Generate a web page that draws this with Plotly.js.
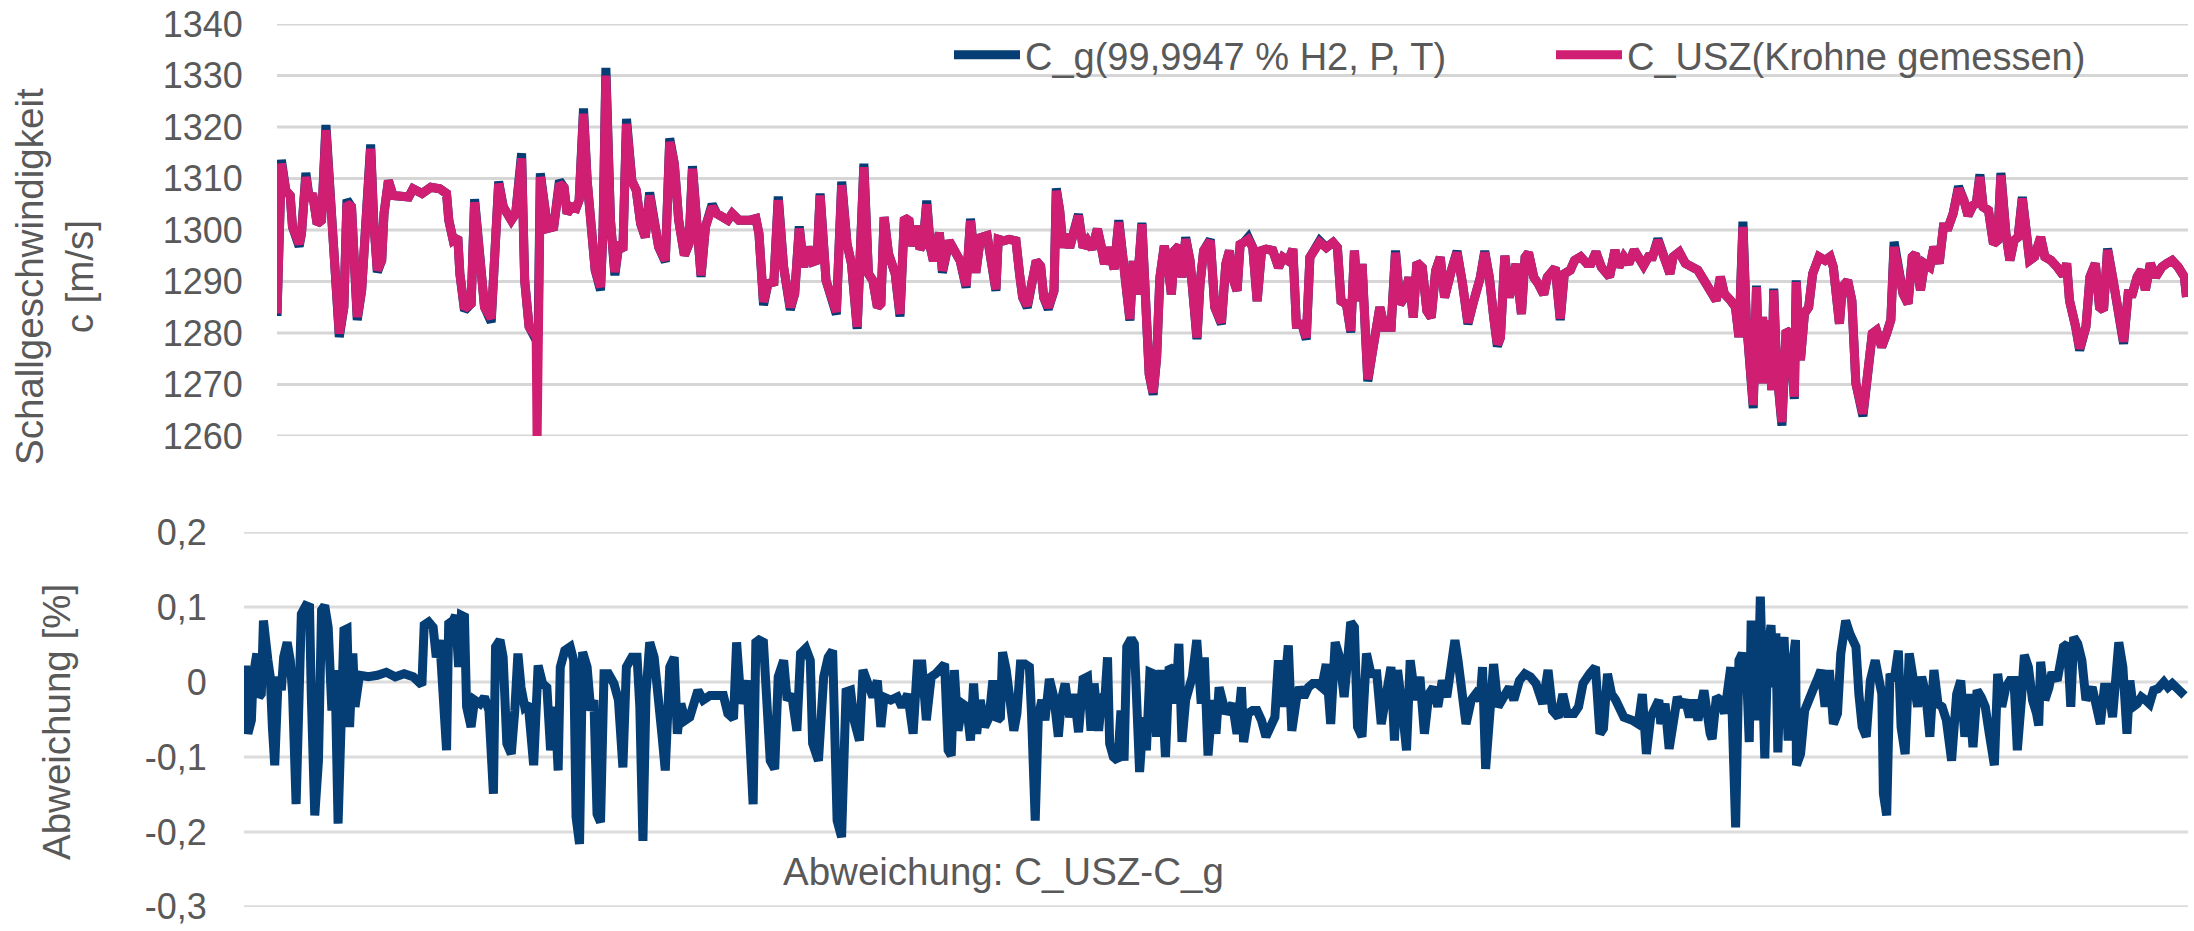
<!DOCTYPE html>
<html>
<head>
<meta charset="utf-8">
<script src="https://cdn.plot.ly/plotly-3.0.1.min.js"></script>
<style>
  html, body { margin: 0; padding: 0; background: #ffffff; }
  #chart { width: 2194px; height: 931px; }
</style>
</head>
<body>
<div id="chart"></div>
<script>
// ---------------- DATA ----------------
// Measurement index (0..1000) for the upper chart
const tTop = [0, 2.3, 4.6, 6.9, 8.1, 10.5, 11.6, 12.8, 15.1, 17.0, 18.6, 21.0, 23.3, 25.6, 28.7, 30.3, 32.6, 35.0, 36.6, 39.0, 42.0, 44.3, 46.7, 49.0, 50.6, 52.5, 54.8, 56.0, 58.3, 60.7, 68.9, 71.2, 75.9, 80.5, 85.2, 88.7, 89.9, 92.2, 94.6, 95.7, 98.1, 101.6, 103.4, 106.2, 108.6, 112.1, 114.4, 116.0, 118.4, 120.3, 122.6, 124.9, 128.0, 129.6, 131.9, 134.3, 135.6, 136.1, 136.6, 137.8, 140.1, 141.7, 144.8, 147.8, 150.2, 151.8, 154.1, 156.5, 158.1, 160.4, 162.3, 164.6, 166.5, 169.3, 170.6, 172.1, 174.5, 176.8, 178.7, 181.0, 182.9, 185.7, 188.0, 190.3, 192.7, 195.0, 197.3, 199.7, 203.2, 205.5, 207.9, 210.2, 213.2, 215.6, 217.4, 219.5, 221.9, 224.2, 227.7, 230.1, 232.4, 235.9, 238.2, 241.7, 247.6, 250.6, 252.2, 254.6, 256.9, 260.0, 262.3, 265.1, 268.6, 270.9, 273.3, 275.6, 277.9, 280.3, 282.6, 284.2, 287.3, 290.3, 292.7, 295.5, 298.3, 300.6, 303.6, 307.1, 309.5, 311.8, 314.2, 316.0, 317.7, 320.0, 323.5, 326.0,
  328.3, 330.7, 332.5, 334.9, 336.5, 338.1, 340.0, 341.9, 343.5, 346.6, 348.2, 351.7, 355.2, 357.5, 360.6, 362.9, 365.7, 368.1, 371.6, 373.9, 376.2, 377.4, 380.2, 383.2, 386.7, 388.6, 390.2, 392.6, 394.9, 397.3, 399.6, 401.2, 403.6, 406.6, 407.8, 409.6, 411.3, 412.9, 414.8, 417.1, 419.4, 421.8, 424.1, 426.5, 429.3, 431.1, 433.0, 435.3, 438.1, 440.5, 442.8, 444.7, 446.3, 448.0, 449.8, 452.6, 454.5, 456.4, 458.5, 460.3, 462.0, 464.3, 466.2, 468.0, 469.7, 472.0, 473.6, 475.5, 477.8, 479.7, 481.4, 483.0, 484.9, 488.4, 490.7, 494.2, 496.5, 498.4, 500.0, 502.4, 504.0, 505.9, 508.2, 510.6, 512.9, 515.2, 517.6, 521.1, 524.1, 526.4, 529.2, 531.6, 533.4, 536.3, 538.6, 540.5, 543.3, 545.6, 549.1, 552.6, 554.9, 556.8, 559.6, 561.9, 563.8, 565.5, 567.8, 569.0, 570.8, 573.6, 577.1, 579.5, 583.0, 585.3, 587.6, 590.0, 592.3, 594.6, 596.5, 599.3, 601.7, 604.0, 606.3, 608.7, 611.0, 614.5, 617.5, 620.4, 623.2, 626.2, 629.7, 632.0, 634.4, 636.7, 638.6, 640.2, 642.5, 644.9, 648.4, 651.2, 653.1, 654.9, 657.7, 660.1, 662.9, 664.7, 668.9, 671.5, 673.6, 676.8, 679.0, 682.2, 685.4, 687.6, 690.2,
  693.0, 697.3, 700.1, 702.2, 704.8, 707.4, 710.2, 712.3, 715.1, 717.7, 719.8, 722.6, 725.2, 728.9, 730.6, 733.8, 737.0, 740.2, 743.5, 747.8, 751.0, 753.1, 755.3, 757.4, 760.7, 763.2, 765.0, 767.1, 768.8, 770.3, 772.5, 774.2, 775.7, 777.4, 778.9, 780.6, 782.2, 783.2, 784.7, 787.5, 789.7, 791.8, 794.0, 795.0, 797.2, 799.3, 801.5, 803.6, 806.9, 810.1, 812.7, 814.4, 816.5, 817.6, 819.1, 821.9, 824.1, 826.2, 829.9, 832.7, 834.8, 837.0, 839.7, 842.3, 844.5, 846.2, 848.8, 850.9, 853.5, 855.7, 857.4, 860.0, 862.1, 864.9, 867.0, 869.8, 872.0, 874.6, 877.1, 879.9, 882.7, 884.9, 887.5, 889.2, 891.1, 892.8, 895.6, 898.2, 900.4, 902.1, 904.7, 906.8, 909.0, 911.1, 913.3, 915.4, 917.1, 919.7, 922.9, 925.1, 928.3, 931.5, 934.7, 936.5, 938.0, 941.2, 943.3, 946.6, 948.7, 951.5, 953.7, 955.8, 957.9, 960.5, 963.8, 966.3, 968.7, 970.9, 973.4, 975.6, 977.7, 980.3, 983.1, 986.3, 988.9, 991.7, 994.9, 998.1, 999.2];

// C_USZ (Krohne gemessen) [m/s]
const cUSZ = [1283.8, 1312.9, 1307.7, 1306.7, 1300.6, 1298.0, 1297.3, 1299.3, 1310.3, 1305.8, 1307.1, 1301.2, 1301.9, 1319.4, 1299.9, 1287.0, 1279.9, 1285.0, 1305.1, 1304.5, 1283.1, 1288.3, 1305.1, 1315.8, 1301.9, 1292.2, 1294.1, 1303.2, 1309.6, 1306.7, 1306.4, 1308.0, 1307.1, 1308.3, 1308.0, 1307.1, 1301.9, 1298.0, 1298.6, 1291.5, 1284.7, 1285.7, 1305.4, 1293.5, 1285.0, 1282.8, 1301.9, 1309.0, 1304.5, 1303.2, 1301.9, 1303.2, 1313.9, 1290.2, 1281.2, 1279.9, 1280.5, 1259.0, 1279.0, 1310.3, 1304.5, 1300.3, 1300.6, 1309.0, 1308.3, 1303.2, 1304.5, 1304.2, 1305.8, 1322.6, 1309.6, 1299.9, 1292.2, 1288.9, 1300.0, 1330.0, 1301.9, 1291.8, 1296.7, 1296.1, 1320.6, 1309.6, 1307.7, 1301.2, 1298.6, 1306.7, 1301.9, 1296.7, 1294.1, 1317.1, 1312.9, 1301.9, 1295.1, 1297.3, 1311.9, 1301.9, 1291.2, 1300.6, 1304.5, 1303.2, 1302.5, 1301.9, 1303.2, 1301.9, 1301.9, 1302.2, 1299.3, 1286.0, 1289.6, 1289.9, 1305.8, 1292.8, 1285.0, 1287.6, 1300.3, 1292.8, 1296.7, 1293.8, 1294.1, 1306.7, 1290.2, 1286.3, 1284.1, 1308.7, 1297.3, 1293.5, 1281.2, 1312.2, 1291.5, 1290.2, 1285.0, 1285.7, 1302.5, 1295.4, 1291.5, 1283.7,
  1302.4, 1301.8, 1296.9, 1300.8, 1296.3, 1297.2, 1305.0, 1296.6, 1294.0, 1299.5, 1292.1, 1297.9, 1295.3, 1294.0, 1289.2, 1301.8, 1291.7, 1298.5, 1298.9, 1294.0, 1288.5, 1298.2, 1297.9, 1298.2, 1297.9, 1291.4, 1286.9, 1285.3, 1289.5, 1294.0, 1293.0, 1286.9, 1285.0, 1288.2, 1307.6, 1303.7, 1296.6, 1299.2, 1296.6, 1300.5, 1302.8, 1296.6, 1297.9, 1296.3, 1300.2, 1297.2, 1293.4, 1296.6, 1292.4, 1301.5, 1294.0, 1287.5, 1282.7, 1294.0, 1287.5, 1301.1, 1285.6, 1272.0, 1268.4, 1275.2, 1290.8, 1296.9, 1293.4, 1287.5, 1296.0, 1296.9, 1290.8, 1298.2, 1294.0, 1286.9, 1279.1, 1289.5, 1296.0, 1297.9, 1285.0, 1282.0, 1293.4, 1296.0, 1290.8, 1288.2, 1297.2, 1297.6, 1298.2, 1296.6, 1286.2, 1296.0, 1296.3, 1296.0, 1292.7, 1294.7, 1294.0, 1296.3, 1281.7, 1281.7, 1279.1, 1294.7, 1296.6, 1297.6, 1296.6, 1297.6, 1296.6, 1286.2, 1285.6, 1280.4, 1296.0, 1286.2, 1293.4, 1279.1, 1271.0, 1277.2, 1285.0, 1281.1, 1281.1, 1295.6, 1285.6, 1286.9, 1290.8, 1283.0, 1293.7, 1292.7, 1284.3, 1283.0, 1292.1, 1294.7, 1286.9, 1292.1, 1295.6, 1289.5, 1282.0, 1286.2, 1290.8, 1295.6, 1290.8, 1283.0, 1277.8, 1279.1, 1295.0, 1286.9, 1293.4, 1283.7, 1294.7, 1295.6, 1290.8, 1289.5, 1287.5, 1290.8, 1292.7, 1282.8, 1291.5, 1292.2, 1294.1, 1294.8, 1293.5, 1293.5, 1295.7,
  1292.8, 1290.9, 1296.1, 1292.8, 1294.8, 1293.5, 1296.1, 1294.8, 1293.1, 1294.8, 1294.8, 1298.0, 1295.4, 1291.5, 1294.8, 1295.7, 1293.5, 1292.8, 1292.2, 1289.6, 1287.6, 1286.3, 1290.9, 1287.6, 1286.3, 1285.0, 1279.2, 1300.6, 1283.1, 1273.4, 1266.0, 1288.9, 1270.2, 1283.1, 1270.2, 1282.5, 1268.9, 1288.3, 1273.4, 1262.7, 1280.5, 1279.9, 1267.6, 1289.9, 1274.7, 1283.8, 1285.0, 1291.5, 1294.8, 1294.1, 1294.8, 1292.8, 1286.3, 1281.8, 1288.9, 1290.2, 1286.3, 1270.2, 1264.3, 1273.4, 1279.9, 1280.5, 1277.3, 1279.9, 1282.5, 1296.7, 1291.5, 1287.6, 1285.7, 1294.8, 1295.4, 1288.3, 1293.5, 1292.8, 1296.7, 1293.5, 1300.6, 1300.6, 1303.2, 1308.0, 1305.8, 1302.8, 1304.8, 1305.1, 1310.3, 1304.5, 1303.8, 1297.3, 1298.0, 1310.6, 1299.3, 1294.1, 1298.0, 1298.6, 1306.1, 1297.3, 1294.1, 1294.8, 1298.6, 1294.8, 1294.1, 1292.8, 1291.2, 1293.5, 1286.3, 1281.2, 1277.0, 1281.2, 1290.9, 1293.5, 1285.0, 1284.4, 1296.1, 1290.9, 1283.8, 1278.3, 1287.6, 1287.6, 1290.9, 1292.2, 1288.3, 1293.5, 1290.9, 1292.8, 1293.5, 1294.1, 1292.8, 1290.9, 1287.0];

// C_g (99,9947 % H2, P, T) [m/s]
const cG = [1283.3, 1313.6, 1307.7, 1306.7, 1300.6, 1298.0, 1296.8, 1299.3, 1311.1, 1305.8, 1307.1, 1301.2, 1301.9, 1320.4, 1299.9, 1287.0, 1279.2, 1285.0, 1305.9, 1304.5, 1282.5, 1288.3, 1305.1, 1316.6, 1301.9, 1291.8, 1294.1, 1303.2, 1309.6, 1306.7, 1306.4, 1308.0, 1307.1, 1308.3, 1308.0, 1307.1, 1301.9, 1298.0, 1298.6, 1291.5, 1284.3, 1285.7, 1306.0, 1293.5, 1285.0, 1282.1, 1301.9, 1309.4, 1304.5, 1303.2, 1301.9, 1303.2, 1314.9, 1290.2, 1281.2, 1279.5, 1280.0, 1280.0, 1279.5, 1311.0, 1304.5, 1300.3, 1300.6, 1309.6, 1308.3, 1303.2, 1304.5, 1304.2, 1305.8, 1323.6, 1309.6, 1299.9, 1292.2, 1288.3, 1300.0, 1331.5, 1301.9, 1291.2, 1296.7, 1296.1, 1321.6, 1309.6, 1307.7, 1301.2, 1298.6, 1307.3, 1301.9, 1296.7, 1293.8, 1317.8, 1312.9, 1301.9, 1295.1, 1297.3, 1312.4, 1301.9, 1290.9, 1300.6, 1305.0, 1303.2, 1302.5, 1301.9, 1303.2, 1301.9, 1301.9, 1302.2, 1299.3, 1285.4, 1289.6, 1289.9, 1306.5, 1292.8, 1284.5, 1287.6, 1300.7, 1292.8, 1296.7, 1293.8, 1294.1, 1307.1, 1290.2, 1286.3, 1283.6, 1309.4, 1297.3, 1293.5, 1280.8, 1312.9, 1291.5, 1290.2, 1285.0, 1285.7, 1302.5, 1295.4, 1291.5, 1283.2,
  1302.4, 1301.8, 1296.9, 1300.8, 1296.3, 1297.2, 1305.7, 1296.6, 1294.0, 1299.5, 1291.7, 1297.9, 1295.3, 1294.0, 1288.8, 1302.2, 1291.7, 1298.5, 1298.9, 1294.0, 1288.2, 1298.2, 1297.9, 1298.2, 1297.9, 1291.4, 1286.9, 1284.9, 1289.5, 1294.0, 1293.0, 1286.9, 1284.6, 1288.2, 1308.1, 1303.7, 1296.6, 1299.2, 1296.6, 1300.5, 1303.1, 1296.6, 1297.9, 1296.3, 1300.2, 1297.2, 1293.4, 1296.6, 1292.4, 1301.9, 1294.0, 1287.5, 1282.4, 1294.0, 1287.5, 1301.4, 1285.6, 1272.0, 1268.0, 1275.2, 1290.8, 1296.9, 1293.4, 1287.5, 1296.0, 1296.9, 1290.8, 1298.6, 1294.0, 1286.9, 1278.8, 1289.5, 1296.0, 1298.2, 1285.0, 1281.7, 1293.4, 1296.0, 1290.8, 1288.2, 1297.2, 1297.6, 1298.6, 1296.6, 1286.2, 1296.0, 1296.3, 1296.0, 1292.7, 1294.7, 1294.0, 1296.3, 1281.7, 1281.7, 1278.7, 1294.7, 1296.6, 1297.9, 1296.6, 1297.6, 1296.6, 1286.2, 1285.6, 1280.1, 1296.0, 1286.2, 1293.4, 1279.1, 1270.6, 1277.2, 1285.0, 1281.1, 1281.1, 1296.0, 1285.6, 1286.9, 1290.8, 1283.0, 1293.7, 1292.7, 1284.3, 1283.0, 1292.1, 1294.7, 1286.9, 1292.1, 1295.9, 1289.5, 1281.7, 1286.2, 1290.8, 1295.9, 1290.8, 1283.0, 1277.4, 1279.1, 1295.0, 1286.9, 1293.4, 1283.7, 1294.7, 1295.6, 1290.8, 1289.5, 1287.5, 1290.8, 1292.7, 1282.5, 1291.5, 1292.2, 1294.1, 1294.8, 1293.5, 1293.5, 1295.7,
  1292.8, 1290.9, 1296.1, 1292.8, 1294.8, 1293.5, 1296.1, 1294.8, 1293.1, 1294.8, 1294.8, 1298.3, 1295.4, 1291.5, 1294.8, 1295.7, 1293.5, 1292.8, 1292.2, 1289.6, 1287.6, 1286.3, 1290.9, 1287.6, 1286.3, 1285.0, 1279.2, 1301.6, 1283.1, 1273.4, 1265.4, 1289.2, 1270.2, 1283.1, 1270.2, 1282.5, 1268.9, 1288.6, 1273.4, 1262.0, 1280.5, 1279.9, 1267.2, 1290.2, 1274.7, 1283.8, 1285.0, 1291.5, 1294.8, 1294.1, 1294.8, 1292.8, 1286.3, 1281.8, 1288.9, 1290.2, 1286.3, 1270.2, 1263.8, 1273.4, 1279.9, 1280.5, 1277.3, 1279.9, 1282.5, 1297.7, 1291.5, 1287.6, 1285.7, 1294.8, 1295.4, 1288.3, 1293.5, 1292.8, 1296.7, 1293.5, 1300.6, 1300.6, 1303.2, 1308.5, 1305.8, 1302.8, 1304.8, 1305.1, 1310.8, 1304.5, 1303.8, 1297.3, 1298.0, 1311.1, 1299.3, 1294.1, 1298.0, 1298.6, 1306.4, 1297.3, 1294.1, 1294.8, 1298.6, 1294.8, 1294.1, 1292.8, 1291.2, 1293.5, 1286.3, 1281.2, 1276.6, 1281.2, 1290.9, 1293.5, 1285.0, 1284.4, 1296.4, 1290.9, 1283.8, 1277.9, 1287.6, 1287.6, 1290.9, 1292.2, 1288.3, 1293.5, 1290.9, 1292.8, 1293.5, 1294.1, 1292.8, 1290.9, 1287.0];

// Measurement index (0..1000) for the lower chart
const tDev = [0.8, 2.0, 3.8, 4.7, 6.6, 7.7, 8.9, 10.0, 12.3, 13.5, 14.6, 15.8, 17.6, 19.2, 20.4, 22.2, 23.8, 25.0, 26.8, 28.4, 29.5, 31.8, 33.7, 34.6, 36.4, 38.3, 39.9, 41.5, 43.3, 45.2, 46.8, 48.4, 50.2, 51.4, 53.0, 54.3, 56.0, 57.1, 59.4, 64.0, 68.6, 73.2, 77.8, 82.4, 87.0, 89.3, 91.5, 92.7, 95.0, 97.3, 98.9, 100.7, 102.6, 104.2, 105.3, 107.6, 108.8, 110.4, 111.8, 113.4, 114.5, 116.8, 118.6, 121.4, 123.7, 126.0, 128.3, 129.4, 131.7, 133.3, 135.2, 137.5, 139.3, 140.9, 142.5, 144.4, 146.2, 149.0, 151.3, 153.6, 155.8, 157.7, 160.0, 161.6, 162.7, 165.0, 167.8, 169.6, 170.8, 172.6, 174.2, 176.5, 178.4, 180.0, 181.6, 183.4, 185.2, 187.5, 190.3, 192.6, 194.9, 196.7, 199.5, 202.2, 203.6, 205.2, 206.8, 208.7, 211.0, 213.3, 215.1, 216.7, 219.0, 221.3, 222.9, 224.7, 227.0, 229.3, 231.6, 233.5, 236.2, 239.7, 243.1, 246.6, 248.9, 251.8, 253.4, 255.7, 258.7, 260.3, 261.9, 263.3, 264.9, 267.2, 268.4, 270.7, 273.0, 274.8, 277.6, 279.4, 281.7, 283.3, 284.4, 286.3, 289.0, 291.3, 292.5, 295.5, 298.2, 300.5, 302.8, 305.1, 307.4, 309.7, 312.0, 313.8, 316.6, 318.4, 321.2, 323.5, 325.8, 327.6, 329.2, 332.7, 336.1, 338.4, 341.4, 344.2, 346.4, 348.7, 351.0,
  353.5, 355.8, 358.1, 360.4, 362.2, 363.8, 365.4, 367.3, 369.6, 371.8, 373.7, 375.3, 376.9, 378.7, 381.0, 383.3, 385.2, 387.5, 389.1, 390.2, 392.1, 393.7, 396.0, 397.6, 399.4, 401.7, 404.0, 405.1, 407.0, 408.6, 410.4, 412.0, 414.3, 416.6, 418.9, 420.5, 422.4, 424.7, 427.0, 429.3, 431.6, 433.9, 435.7, 437.3, 439.6, 441.2, 443.0, 444.2, 445.3, 447.2, 449.5, 451.1, 452.7, 454.1, 456.4, 458.0, 459.1, 460.7, 462.6, 464.2, 466.0, 467.8, 469.4, 471.7, 474.0, 475.9, 477.9, 479.3, 480.9, 482.5, 484.4, 486.2, 487.8, 490.1, 492.4, 494.0, 495.9, 498.2, 500.0, 501.6, 503.2, 505.0, 508.5, 510.8, 513.1, 514.2, 516.5, 518.8, 521.1, 523.4, 525.7, 528.0, 530.3, 532.1, 534.4, 537.2, 539.0, 541.3, 542.9, 545.2, 547.5, 549.8, 552.1, 554.4, 556.7, 559.0, 561.3, 563.6, 565.9, 567.7, 569.3, 571.2, 572.8, 575.1, 577.4, 579.7, 582.7, 585.0, 587.3, 590.0, 591.8, 593.4, 595.7, 598.0, 599.9, 602.6, 604.9, 607.2, 609.5, 611.8, 614.1, 616.4, 618.7, 621.0, 622.9, 624.5, 626.8, 628.6, 631.3, 633.6, 635.9, 637.1, 638.7, 640.5, 642.8, 645.1, 648.6, 650.9, 653.2, 656.1, 658.9, 661.7, 664.6, 668.1, 670.8, 673.1, 676.1, 678.4, 680.7, 684.2, 686.5, 688.8, 692.2, 695.2, 697.5,
  699.3, 701.4, 703.5, 705.6, 707.7, 709.8, 714.1, 717.2, 719.3, 721.4, 723.6, 725.7, 727.8, 728.8, 731.0, 733.1, 735.2, 737.3, 739.4, 741.5, 743.6, 745.7, 747.9, 751.0, 754.2, 755.2, 757.4, 759.5, 761.6, 763.1, 764.8, 767.3, 769.0, 770.7, 772.8, 774.3, 775.3, 776.4, 778.5, 780.0, 781.2, 782.3, 783.8, 785.5, 786.9, 788.0, 789.0, 790.5, 792.2, 794.3, 796.4, 798.1, 798.6, 800.7, 802.8, 804.9, 807.0, 809.1, 811.2, 813.3, 815.5, 817.6, 819.7, 821.4, 823.9, 826.0, 828.1, 829.2, 830.7, 832.4, 834.5, 836.6, 839.1, 840.8, 842.5, 843.3, 845.0, 846.7, 848.8, 851.0, 852.4, 854.5, 856.6, 858.8, 860.9, 863.0, 865.1, 867.2, 869.3, 871.4, 873.5, 875.7, 878.4, 881.0, 883.1, 885.2, 887.3, 889.4, 891.5, 893.6, 895.7, 897.8, 900.4, 902.1, 904.2, 906.3, 908.4, 910.5, 912.2, 914.3, 915.8, 917.9, 920.0, 922.1, 923.2, 924.2, 926.4, 928.5, 930.0, 932.7, 935.9, 938.0, 939.7, 941.2, 943.3, 945.4, 947.5, 950.7, 952.8, 954.9, 957.0, 959.1, 961.2, 962.9, 964.4, 966.5, 968.6, 970.1, 971.8, 973.9, 976.0, 978.1, 980.2, 982.3, 984.5, 987.6, 989.7, 991.9, 995.0, 998.2];

// Abweichung C_USZ - C_g [%]
const dev = [0.022, -0.069, -0.051, 0.007, 0.038, -0.020, -0.016, 0.082, 0.029, 0.007, -0.060, -0.111, 0.007, -0.011, 0.033, 0.053, 0.029, -0.016, -0.163, -0.016, 0.091, 0.102, 0.100, -0.016, -0.178, -0.105, 0.096, 0.102, 0.073, -0.038, 0.016, -0.189, -0.038, 0.069, 0.071, -0.060, 0.038, -0.033, 0.009, 0.007, 0.009, 0.013, 0.007, 0.011, 0.007, 0.000, -0.004, 0.076, 0.080, 0.073, 0.033, 0.056, -0.042, -0.091, 0.078, 0.082, 0.089, 0.020, 0.089, 0.087, -0.033, -0.060, -0.024, -0.029, -0.020, -0.038, -0.149, 0.047, 0.056, 0.033, -0.082, -0.096, -0.038, 0.038, -0.007, -0.033, -0.029, -0.111, 0.022, -0.002, -0.007, -0.091, -0.033, -0.118, 0.020, 0.042, 0.047, 0.029, -0.180, -0.216, 0.040, 0.020, -0.038, -0.024, -0.176, -0.187, 0.011, 0.011, -0.002, -0.024, -0.114, 0.020, 0.033, 0.033, -0.033, -0.212, -0.016, 0.053, 0.033, -0.016, -0.073, -0.118, 0.020, 0.033, -0.069, -0.029, -0.051, -0.047, -0.024, -0.011, -0.024, -0.018, -0.018, -0.018, -0.042, -0.049, 0.053, -0.029, 0.002, -0.105, -0.163, 0.053, 0.056, 0.053, -0.016, -0.105, -0.116, 0.007, 0.029, -0.024, -0.016, -0.065, -0.065, 0.038, 0.045, 0.029, -0.082, -0.105, 0.007, 0.033, 0.042, -0.185, -0.207, -0.013, -0.011, -0.051, -0.078, 0.016, -0.002, -0.020, 0.002, -0.060, -0.020, -0.024, -0.020, -0.033, -0.016, -0.069, 0.024, 0.024, -0.051,
  0.007, 0.011, 0.020, 0.024, -0.091, -0.098, 0.016, -0.065, -0.029, -0.033, -0.078, -0.002, -0.069, -0.024, -0.060, -0.047, 0.002, -0.051, -0.047, 0.040, 0.016, -0.024, -0.065, -0.042, 0.024, 0.024, 0.020, -0.042, -0.185, -0.047, -0.024, -0.051, 0.004, -0.020, -0.073, -0.024, -0.002, -0.047, -0.016, -0.067, 0.004, 0.007, -0.065, -0.002, -0.065, -0.022, -0.016, 0.033, -0.082, -0.100, -0.105, -0.038, -0.105, 0.047, 0.058, 0.051, -0.016, -0.120, -0.047, -0.091, 0.013, 0.011, -0.073, 0.016, -0.100, 0.020, 0.016, -0.029, 0.051, -0.080, -0.024, -0.007, 0.007, 0.056, -0.029, 0.033, -0.098, -0.024, -0.069, -0.007, -0.029, -0.042, -0.029, -0.069, -0.007, -0.080, -0.042, -0.038, -0.038, -0.051, -0.073, -0.060, -0.047, 0.029, -0.033, 0.049, -0.065, -0.024, -0.007, -0.020, -0.007, -0.002, -0.002, -0.007, 0.024, -0.056, 0.053, 0.033, -0.020, 0.029, 0.080, 0.073, -0.060, -0.073, 0.038, 0.011, 0.011, -0.056, -0.024, 0.020, -0.078, 0.016, -0.033, -0.091, 0.029, -0.024, 0.007, -0.069, -0.016, -0.007, -0.033, 0.002, -0.020, 0.033, 0.056, 0.029, -0.020, -0.056, -0.024, -0.016, -0.024, 0.020, -0.116, -0.038, 0.024, -0.033, -0.016, -0.007, -0.024, 0.002, 0.011, 0.007, -0.002, -0.029, 0.016, -0.038, -0.047, -0.016, -0.042, -0.042, -0.033, -0.002, 0.011, 0.020, -0.069,
  -0.062, 0.011, -0.016, -0.024, -0.033, -0.047, -0.051, -0.056, -0.016, -0.096, -0.047, -0.033, -0.024, -0.056, -0.029, -0.089, -0.047, -0.020, -0.033, -0.024, -0.047, -0.024, -0.051, -0.011, -0.069, -0.076, -0.020, -0.024, -0.042, -0.016, 0.020, -0.194, 0.029, 0.038, 0.020, -0.080, 0.082, 0.029, -0.051, 0.114, 0.029, -0.102, 0.038, 0.076, -0.007, 0.065, -0.094, 0.029, 0.060, -0.078, 0.020, 0.056, -0.111, -0.096, -0.038, -0.020, -0.011, 0.002, 0.016, -0.033, 0.016, -0.056, -0.042, 0.038, 0.082, 0.065, 0.056, 0.047, -0.016, -0.060, -0.073, 0.002, 0.029, 0.007, -0.016, -0.149, -0.178, 0.011, 0.002, 0.042, -0.060, -0.096, 0.038, 0.002, -0.033, 0.007, -0.016, -0.073, 0.016, -0.029, -0.033, -0.051, -0.105, -0.016, 0.002, -0.073, -0.016, -0.087, -0.011, -0.020, -0.033, -0.069, -0.111, 0.011, -0.033, -0.007, 0.002, 0.002, -0.091, -0.024, 0.036, 0.020, -0.024, -0.042, -0.058, 0.027, -0.024, -0.007, 0.013, 0.002, 0.047, 0.051, -0.033, 0.060, 0.051, 0.029, -0.024, -0.007, -0.029, -0.056, -0.007, -0.007, -0.047, 0.029, 0.053, 0.020, -0.069, 0.002, -0.033, -0.029, -0.020, -0.024, -0.029, -0.011, -0.009, 0.000, -0.007, -0.002, -0.011, -0.018];

// Axis ticks
const cTicks = [1260, 1270, 1280, 1290, 1300, 1310, 1320, 1330, 1340];
const devTicks = [-0.3, -0.2, -0.1, 0, 0.1, 0.2];
const devTickLabels = ['-0,3', '-0,2', '-0,1', '0', '0,1', '0,2'];

// Texts
const seriesNames = ['C_g(99,9947 % H2, P, T)', 'C_USZ(Krohne gemessen)'];
const yTitleTop = 'Schallgeschwindigkeit<br>c [m/s]';
const yTitleBottom = 'Abweichung [%]';
const devLabel = 'Abweichung: C_USZ-C_g';

// ---------------- STYLE / LAYOUT ----------------
const W = 2194, H = 931;
const FONT = 'Liberation Sans, Arial, Helvetica, sans-serif';
const GREY = '#595959';
const BLUE = '#053d75';
const PINK = '#d01e72';
const GRID_TOP = '#d6d6d6';
const GRID_BOTTOM = '#dcdcdc';
const LW = 9;
const px = v => v / W;
const py = v => 1 - v / H;

const traces = [
  { x: tTop, y: cG, xaxis: 'x', yaxis: 'y', type: 'scatter', mode: 'lines',
    name: seriesNames[0], legend: 'legend',
    line: { color: BLUE, width: LW } },
  { x: tTop, y: cUSZ, xaxis: 'x', yaxis: 'y', type: 'scatter', mode: 'lines',
    name: seriesNames[1], legend: 'legend2',
    line: { color: PINK, width: LW } },
  { x: tDev, y: dev, xaxis: 'x2', yaxis: 'y2', type: 'scatter', mode: 'lines',
    name: devLabel, showlegend: false,
    line: { color: BLUE, width: LW } }
];

// horizontal gridlines as layout lines, one per tick value
const gridShapes = []
  .concat(cTicks.map(v => ({ type: 'line', layer: 'below', xref: 'x domain', x0: 0, x1: 1,
    yref: 'y', y0: v, y1: v, line: { color: GRID_TOP, width: 3 } })))
  .concat(devTicks.map(v => ({ type: 'line', layer: 'below', xref: 'x2 domain', x0: 0, x1: 1,
    yref: 'y2', y0: v, y1: v, line: { color: GRID_BOTTOM, width: 3 } })));

const yCommon = {
  showgrid: false, zeroline: false, showline: false,
  ticks: 'outside', tickcolor: 'rgba(0,0,0,0)',
  tickfont: { family: FONT, size: 36, color: GREY }, fixedrange: true
};
const xCommon = {
  range: [0, 1000], showgrid: false, zeroline: false, showline: false,
  showticklabels: false, ticks: '', fixedrange: true
};

const legendCommon = {
  orientation: 'h', xanchor: 'left', yanchor: 'middle', y: py(55),
  bgcolor: 'rgba(0,0,0,0)', borderwidth: 0, itemwidth: 66,
  font: { family: FONT, size: 38, color: GREY }
};

const layout = {
  width: W, height: H,
  margin: { l: 0, r: 0, t: 0, b: 0, pad: 0 },
  paper_bgcolor: '#ffffff', plot_bgcolor: 'rgba(0,0,0,0)',
  separators: ',.',
  font: { family: FONT, size: 38, color: GREY },
  showlegend: true,
  xaxis: Object.assign({}, xCommon, { domain: [px(277), px(2188)], anchor: 'y' }),
  yaxis: Object.assign({}, yCommon, { domain: [py(436), py(24)], range: [1259.98, 1340.02],
    tickvals: cTicks, ticklen: 26, anchor: 'x' }),
  xaxis2: Object.assign({}, xCommon, { domain: [px(244), px(2188)], anchor: 'y2' }),
  yaxis2: Object.assign({}, yCommon, { domain: [py(907), py(532)], range: [-0.3002, 0.2002],
    tickvals: devTicks, ticktext: devTickLabels, ticklen: 29, anchor: 'x2' }),
  legend: Object.assign({}, legendCommon, { x: px(949) }),
  legend2: Object.assign({}, legendCommon, { x: px(1551) }),
  shapes: gridShapes,
  annotations: [
    { text: yTitleTop, xref: 'paper', yref: 'paper', x: px(54), y: py(277),
      xanchor: 'center', yanchor: 'middle', textangle: -90, showarrow: false,
      font: { family: FONT, size: 38.5, color: GREY } },
    { text: yTitleBottom, xref: 'paper', yref: 'paper', x: px(56), y: py(722),
      xanchor: 'center', yanchor: 'middle', textangle: -90, showarrow: false,
      font: { family: FONT, size: 38.5, color: GREY } },
    { text: devLabel, xref: 'paper', yref: 'paper', x: px(781), y: py(871),
      xanchor: 'left', yanchor: 'middle', showarrow: false,
      font: { family: FONT, size: 38.5, color: GREY } }
  ]
};

Plotly.newPlot('chart', traces, layout, { displayModeBar: false, staticPlot: true });
</script>
</body>
</html>
